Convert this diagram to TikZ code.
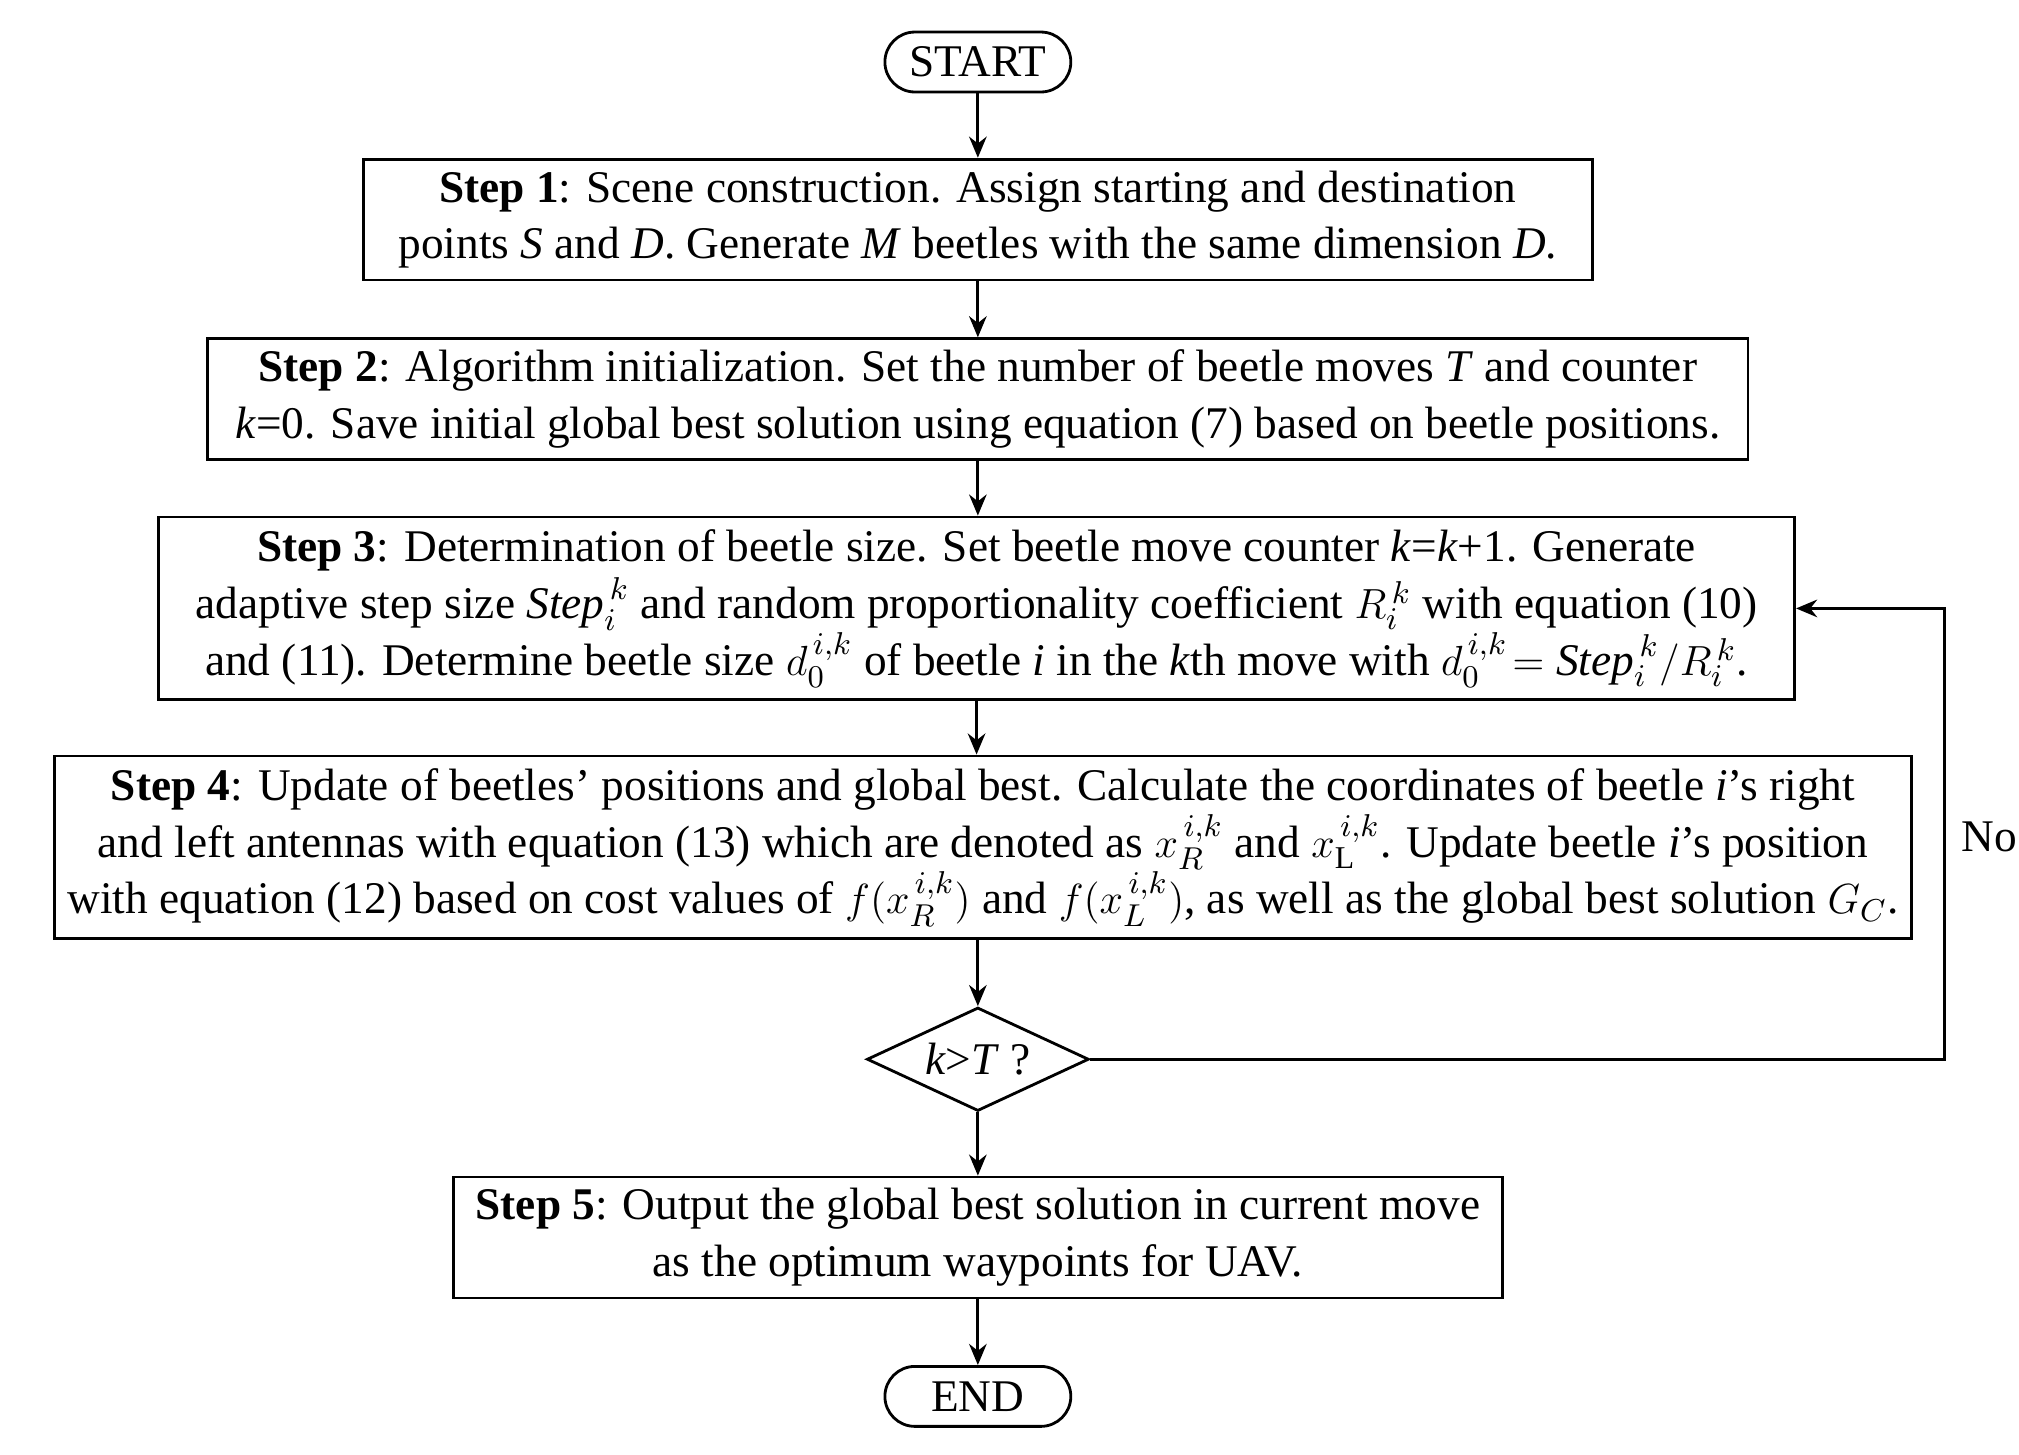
\documentclass[tikz,border=0pt]{standalone}
\usepackage{fontspec}
\setmainfont{Liberation Serif}
\usepackage{tikz}
\usetikzlibrary{shapes.geometric,arrows.meta,positioning}

\begin{document}
\begin{tikzpicture}[x=0.01292cm, y=-0.01292cm,
    font=\fontsize{12.9}{16.2}\selectfont,
    box/.style={rectangle, draw, thick, align=center, inner sep=1pt, minimum height=1.21cm},
    term/.style={rectangle, draw, thick, rounded corners=0.3cm, minimum width=1.86cm, minimum height=0.6cm},
    decision/.style={diamond, draw, thick, aspect=1.75, inner sep=1pt, minimum width=2.22cm},
    arrow/.style={thick,-{Stealth[length=6pt,width=5pt]}}]
    \useasboundingbox (0,0) rectangle (1563,1126);

    % Nodes
    \node [term] (start) at (757,48) {START};
    \node [box, minimum width=12.3cm] (step1) at (757,170)
      {\textbf{Step 1}: Scene construction. Assign starting and destination\\ points \textit{S} and \textit{D}. Generate \textit{M} beetles with the same dimension \textit{D}.};
    \node [box, minimum width=15.41cm] (step2) at (757,309)
      {\textbf{Step 2}: Algorithm initialization. Set the number of beetle moves \textit{T} and counter\\ \textit{k}=0. Save initial global best solution using equation (7) based on beetle positions.};
    \node [box, minimum width=16.37cm, minimum height=1.83cm] (step3) at (756,471)
      {\textbf{Step 3}: Determination of beetle size. Set beetle move counter \textit{k}=\textit{k}+1. Generate\\ adaptive step size $\mathit{Step}_i^{\,k}$ and random proportionality coefficient $R_i^{\,k}$ with equation (10)\\ and (11). Determine beetle size $d_0^{\,i,k}$ of beetle \textit{i} in the \textit{k}th move with $d_0^{\,i,k}\! = \mathit{Step}_i^{\,k} / R_i^{\,k}$.};
    \node [box, minimum width=18.58cm, minimum height=1.83cm] (step4) at (761,656)
      {\textbf{Step 4}: Update of beetles' positions and global best. Calculate the coordinates of beetle \textit{i}'s right\\ and left antennas with equation (13) which are denoted as $x_R^{\,i,k}$ and $x_{\mathrm{L}}^{\,i,k}$. Update beetle \textit{i}'s position\\ with equation (12) based on cost values of $f(x_R^{\,i,k})$ and $f(x_L^{\,i,k})$, as well as the global best solution $G_C$.};
    \node [decision] (check) at (757,820) {\textit{k}>\textit{T} ?};
    \node [box, minimum width=10.49cm] (step5) at (757,958)
      {\textbf{Step 5}: Output the global best solution in current move\\ as the optimum waypoints for UAV.};
    \node [term] (end) at (757,1081) {END};
    \coordinate (loop) at (1505,820);
    \node (no) at (1540,648) {No};

    % Arrows
    \draw [arrow] (start) -- (step1);
    \draw [arrow] (step1) -- (step2);
    \draw [arrow] (step2) -- (step2 |- step3.north);
    \draw [arrow] (step3) -- (step3 |- step4.north);
    \draw [arrow] (check |- step4.south) -- (check);
    \draw [arrow] (check) -- (step5);
    \draw [arrow] (step5) -- (end);
    \draw [arrow] (check.east) -- (loop) |- (step3.east);

\end{tikzpicture}
\end{document}
